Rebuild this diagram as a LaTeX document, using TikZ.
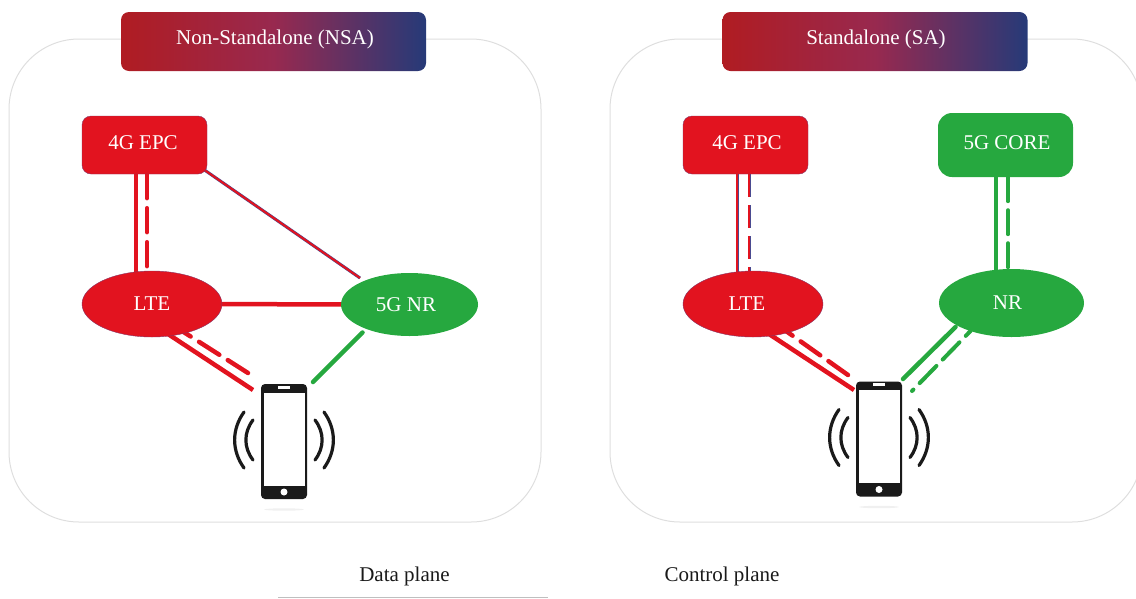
\documentclass[tikz,border=0pt]{standalone}
\usepackage{fontspec}
\setmainfont{Liberation Serif}
\usetikzlibrary{shapes.geometric,backgrounds,calc}
\definecolor{nred}{HTML}{E2131F}
\definecolor{ngreen}{HTML}{26A83F}
\definecolor{nblue}{HTML}{4A4A90}
\definecolor{hleft}{HTML}{B01C22}
\definecolor{hmid}{HTML}{98294F}
\definecolor{hright}{HTML}{263A78}
\definecolor{frame}{HTML}{DEDEDE}
\definecolor{ink}{HTML}{1A1A1A}
\newcommand{\labelfont}{\fontsize{21}{23}\selectfont}
\tikzset{
  x=1pt,y=-1pt,
  outer/.style={draw=frame,line width=1pt,rounded corners=70pt},
  header/.style={rectangle,rounded corners=8pt,minimum width=305pt,minimum height=59pt,inner sep=0pt,
    left color=hleft,right color=hright,middle color=hmid,text=white,font=\labelfont},
  boxred/.style={rectangle,rounded corners=9pt,fill=nred,draw=nblue!60!nred,line width=.4pt,minimum width=125pt,minimum height=58pt,inner sep=0pt,text=white,font=\labelfont},
  boxgreen/.style={rectangle,rounded corners=14pt,fill=ngreen,minimum width=135pt,minimum height=64pt,inner sep=0pt,text=white,font=\labelfont},
  ellred/.style={ellipse,fill=nred,draw=nblue!60!nred,line width=.4pt,minimum width=140pt,minimum height=66pt,inner sep=0pt,text=white,font=\labelfont},
  ellgreen/.style={ellipse,fill=ngreen,inner sep=0pt,text=white,font=\labelfont},
  solidred/.style={draw=nred,line width=4.5pt},
  dashred/.style={draw=nred,line width=4.5pt,line cap=round,dash pattern=on 24pt off 10pt},
  solidgreen/.style={draw=ngreen,line width=4.5pt,line cap=round},
  dashgreen/.style={draw=ngreen,line width=4pt,line cap=round,dash pattern=on 24pt off 9pt},
  thinred/.style={draw=nblue,double=nred,line width=.5pt,double distance=2pt},
  thindash/.style={draw=nblue,double=nred,line width=.4pt,double distance=2.2pt,dash pattern=on 23pt off 8pt},
  wave/.style={draw=ink,line width=3.2pt,line cap=round},
  phonebody/.style={rectangle,rounded corners=4pt,fill=ink,minimum width=46pt,minimum height=115pt,inner sep=0pt},
  plane/.style={text=ink,font=\labelfont,inner sep=0pt},
}
\newcommand{\phonepic}[3]{%
  \begin{scope}[shift={(#1,#2)}]
    \fill[black!6] (0,68) ellipse (20pt and 1.2pt);
    \node[phonebody] (#3) at (0,0) {};
    \fill[white] (-20.5,-49) rectangle (20.5,44);
    \fill[white] (-6,-56) rectangle (6,-53);
    \fill[white] (0,50.5) circle (3.5pt);
    \draw[wave] (-40,-29.5) .. controls (-52.5,-12) and (-52.5,9) .. (-40,26.5);
    \draw[wave] (-31,-21.5) .. controls (-40.5,-9) and (-40.5,6) .. (-31,18.5);
    \draw[wave] (40,-29.5) .. controls (52.5,-12) and (52.5,9) .. (40,26.5);
    \draw[wave] (31,-21.5) .. controls (40.5,-9) and (40.5,6) .. (31,18.5);
  \end{scope}}
\begin{document}
\begin{tikzpicture}
\useasboundingbox (0,0) rectangle (1136,598);
\clip (0,0) rectangle (1136,598);
% frames
\draw[outer] (9,39) rectangle (541,522);
\draw[outer] (610,39) rectangle (1142,522);
\node[header] (hnsa) at (273.5,41.5) {\raisebox{8pt}{\hspace*{3pt}Non-Standalone (NSA)}};
\node[header] (hsa) at (875,41.5) {\raisebox{8pt}{\hspace*{2pt}Standalone (SA)}};
% left
\node[boxred] (epcL) at (144.5,145) {\raisebox{5pt}{\hspace*{-3pt}4G EPC}};
\node[ellred] (lteL) at (152,304) {LTE};
\node[ellgreen,minimum width=137pt,minimum height=63pt] (nrL) at (409.5,304.5) {\hspace*{-7pt}5G NR};
\phonepic{284}{441.5}{phoneL}
% right
\node[boxred] (epcR) at (745.5,145) {\raisebox{5pt}{\hspace*{3pt}4G EPC}};
\node[boxgreen] (coreR) at (1005.5,145) {\raisebox{5pt}{\hspace*{3pt}5G CORE}};
\node[ellred] (lteR) at (753,304) {\hspace*{-12pt}LTE};
\node[ellgreen,minimum width=145pt,minimum height=68pt] (nrR) at (1011.5,303) {\hspace*{-8pt}NR};
\phonepic{879}{439}{phoneR}
% free ends near the phones
\coordinate (pLa) at (253,390);
\coordinate (pLb) at (248,373);
\coordinate (pLc) at (313,382);
\coordinate (pRa) at (854,390);
\coordinate (pRb) at (848,375);
\coordinate (pRc) at (903,379);
\coordinate (pRd) at (912,391);
\begin{scope}[on background layer]
  \path[solidred] ([xshift=-8.5]epcL.south) -- ([shift={(-16,3)}]lteL.north);
  \path[dashred] ([xshift=2.5]epcL.south) -- ([shift={(-5,3)}]lteL.north);
  \path[thinred] ([shift={(60,25)}]epcL.center) -- ([shift={(-49.5,-26.5)}]nrL.center);
  \path[solidred] (lteL.center) -- (nrL.center);
  \path[solidred] ([shift={(16,30)}]lteL.center) -- (pLa);
  \path[dashred] (pLb) -- ([shift={(30,27)}]lteL.center);
  \path[solidgreen] ([shift={(-47,28)}]nrL.center) -- (pLc);
  \path[thinred] ([xshift=-8.5]epcR.south) -- ([shift={(-16,3)}]lteR.north);
  \path[thindash] ([xshift=3.5]epcR.south) -- ([shift={(-4,3)}]lteR.north);
  \path[solidgreen] ([xshift=-9.5]coreR.south) -- ([shift={(-15.5,3)}]nrR.north);
  \path[dashgreen] ([xshift=2.5]coreR.south) -- ([shift={(-3.5,3)}]nrR.north);
  \path[solidred] ([shift={(16,30)}]lteR.center) -- (pRa);
  \path[dashred] (pRb) -- ([shift={(33,27)}]lteR.center);
  \path[solidgreen] ([shift={(-56,24)}]nrR.center) -- (pRc);
  \path[dashgreen,dash phase=22pt] (pRd) -- ([shift={(-41,28)}]nrR.center);
\end{scope}
% legend
\node[plane] (ldata) at (404.5,576) {Data plane};
\node[plane] (lctrl) at (722,576) {Control plane};
\coordinate (la) at (278,597.5);
\coordinate (lb) at (548,597.5);
\draw[draw=black!25,line width=1pt] (la) -- (lb);
\end{tikzpicture}
\end{document}
